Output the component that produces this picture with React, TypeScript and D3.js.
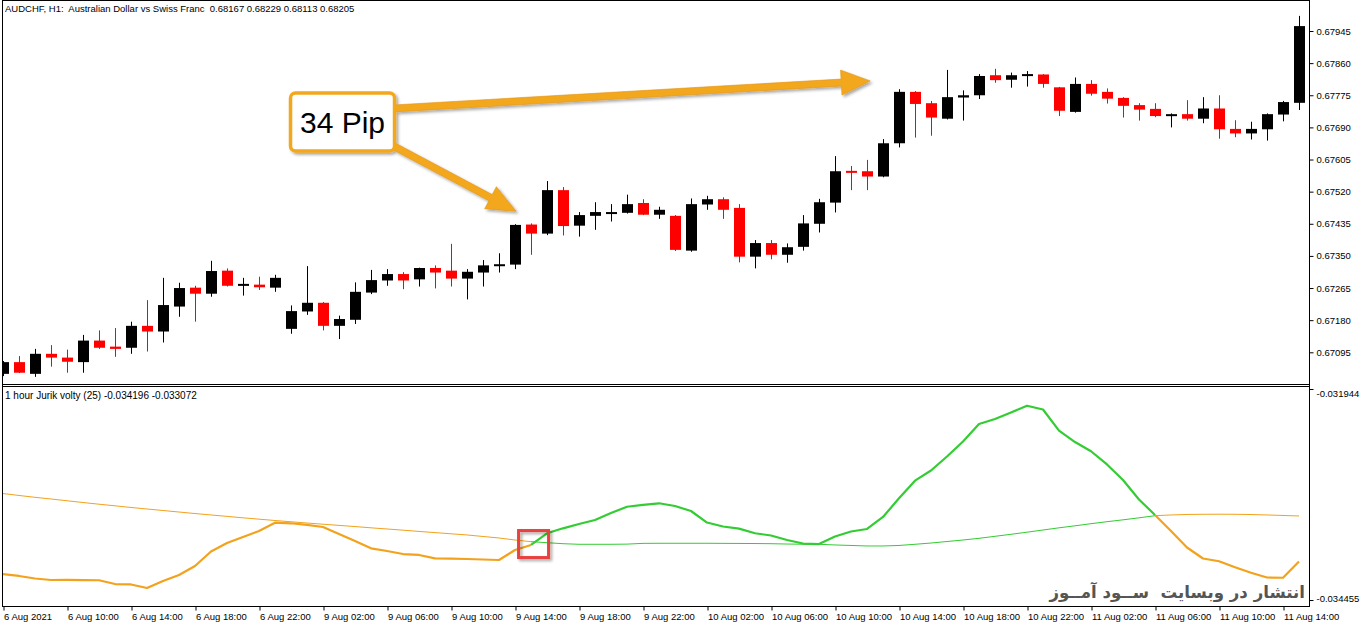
import { useEffect, useRef } from 'react';
import * as d3 from 'd3';

// AUDCHF H1 candles, 6 Aug 06:00 .. 11 Aug 15:00
const opens = [0.67038, 0.67069, 0.67038, 0.67091, 0.67081, 0.67069, 0.67126, 0.67110, 0.67107, 0.67165,
  0.67150, 0.67216, 0.67266, 0.67250, 0.67311, 0.67274, 0.67274, 0.67266, 0.67157, 0.67203,
  0.67226, 0.67165, 0.67181, 0.67253, 0.67285, 0.67302, 0.67288, 0.67318, 0.67311, 0.67290,
  0.67306, 0.67326, 0.67327, 0.67433, 0.67409, 0.67524, 0.67430, 0.67456, 0.67463, 0.67464,
  0.67490, 0.67459, 0.67456, 0.67364, 0.67486, 0.67500, 0.67477, 0.67348, 0.67384, 0.67353,
  0.67374, 0.67435, 0.67491, 0.67575, 0.67574, 0.67560, 0.67648, 0.67784, 0.67754, 0.67713,
  0.67769, 0.67775, 0.67828, 0.67816, 0.67828, 0.67830, 0.67796, 0.67731, 0.67805, 0.67784,
  0.67768, 0.67749, 0.67739, 0.67722, 0.67725, 0.67713, 0.67740, 0.67686, 0.67674, 0.67685,
  0.67724, 0.67755];
const highs = [0.67072, 0.67085, 0.67104, 0.67114, 0.67102, 0.67141, 0.67153, 0.67159, 0.67176, 0.67233,
  0.67292, 0.67279, 0.67271, 0.67337, 0.67317, 0.67292, 0.67295, 0.67300, 0.67219, 0.67323,
  0.67228, 0.67192, 0.67280, 0.67313, 0.67315, 0.67307, 0.67319, 0.67325, 0.67382, 0.67315,
  0.67339, 0.67357, 0.67434, 0.67436, 0.67548, 0.67532, 0.67466, 0.67492, 0.67487, 0.67512,
  0.67500, 0.67480, 0.67458, 0.67502, 0.67509, 0.67505, 0.67487, 0.67392, 0.67392, 0.67383,
  0.67458, 0.67501, 0.67614, 0.67588, 0.67604, 0.67659, 0.67791, 0.67786, 0.67760, 0.67842,
  0.67788, 0.67831, 0.67845, 0.67835, 0.67839, 0.67831, 0.67797, 0.67822, 0.67815, 0.67793,
  0.67770, 0.67754, 0.67754, 0.67727, 0.67762, 0.67770, 0.67775, 0.67709, 0.67705, 0.67727,
  0.67760, 0.67985];
const lows = [0.67032, 0.67040, 0.67030, 0.67057, 0.67041, 0.67041, 0.67104, 0.67083, 0.67091, 0.67097,
  0.67121, 0.67189, 0.67176, 0.67242, 0.67269, 0.67245, 0.67260, 0.67255, 0.67144, 0.67194,
  0.67153, 0.67130, 0.67170, 0.67249, 0.67271, 0.67262, 0.67269, 0.67264, 0.67269, 0.67235,
  0.67269, 0.67306, 0.67315, 0.67353, 0.67405, 0.67404, 0.67401, 0.67419, 0.67441, 0.67462,
  0.67458, 0.67448, 0.67363, 0.67361, 0.67472, 0.67448, 0.67333, 0.67317, 0.67341, 0.67332,
  0.67364, 0.67412, 0.67465, 0.67524, 0.67524, 0.67558, 0.67637, 0.67663, 0.67668, 0.67711,
  0.67708, 0.67765, 0.67808, 0.67795, 0.67798, 0.67795, 0.67720, 0.67729, 0.67774, 0.67753,
  0.67716, 0.67708, 0.67717, 0.67690, 0.67708, 0.67701, 0.67660, 0.67664, 0.67658, 0.67655,
  0.67706, 0.67736];
const closes = [0.67069, 0.67041, 0.67091, 0.67081, 0.67070, 0.67126, 0.67107, 0.67104, 0.67165, 0.67150,
  0.67220, 0.67265, 0.67250, 0.67310, 0.67271, 0.67276, 0.67267, 0.67292, 0.67204, 0.67226,
  0.67165, 0.67183, 0.67255, 0.67286, 0.67302, 0.67285, 0.67318, 0.67306, 0.67290, 0.67308,
  0.67325, 0.67328, 0.67432, 0.67409, 0.67524, 0.67429, 0.67458, 0.67466, 0.67466, 0.67487,
  0.67459, 0.67472, 0.67366, 0.67487, 0.67500, 0.67472, 0.67348, 0.67384, 0.67353, 0.67373,
  0.67436, 0.67492, 0.67574, 0.67573, 0.67560, 0.67648, 0.67784, 0.67752, 0.67716, 0.67770,
  0.67775, 0.67826, 0.67815, 0.67828, 0.67831, 0.67805, 0.67734, 0.67805, 0.67779, 0.67766,
  0.67747, 0.67737, 0.67720, 0.67725, 0.67713, 0.67740, 0.67685, 0.67674, 0.67686, 0.67725,
  0.67757, 0.67958];

// Jurik volty (25): fast (thick) and slow (thin) lines
const jurikFast = [-0.034146, -0.034169, -0.034199, -0.034217, -0.034215, -0.034218, -0.034220, -0.034265, -0.034270, -0.034312,
  -0.034229, -0.034157, -0.034050, -0.033878, -0.033777, -0.033705, -0.033634, -0.033535, -0.033542, -0.033562,
  -0.033586, -0.033670, -0.033753, -0.033840, -0.033872, -0.033908, -0.033919, -0.033959, -0.033962, -0.033967,
  -0.033973, -0.033979, -0.033860, -0.033800, -0.033661, -0.033602, -0.033551, -0.033503, -0.033420, -0.033345,
  -0.033324, -0.033304, -0.033336, -0.033396, -0.033533, -0.033580, -0.033606, -0.033661, -0.033687, -0.033741,
  -0.033783, -0.033789, -0.033699, -0.033640, -0.033610, -0.033467, -0.033245, -0.033035, -0.032914, -0.032747,
  -0.032569, -0.032361, -0.032301, -0.032224, -0.032143, -0.032188, -0.032440, -0.032575, -0.032685, -0.032842,
  -0.033027, -0.033259, -0.033443, -0.033634, -0.033830, -0.033961, -0.033994, -0.034066, -0.034130, -0.034187,
  -0.034190, -0.033997];
const jurikSlow = [-0.033188, -0.033211, -0.033233, -0.033253, -0.033274, -0.033295, -0.033315, -0.033334, -0.033354, -0.033372,
  -0.033390, -0.033408, -0.033426, -0.033443, -0.033460, -0.033477, -0.033493, -0.033509, -0.033524, -0.033539,
  -0.033553, -0.033567, -0.033581, -0.033596, -0.033610, -0.033624, -0.033639, -0.033653, -0.033667, -0.033681,
  -0.033699, -0.033717, -0.033741, -0.033761, -0.033773, -0.033785, -0.033792, -0.033792, -0.033792, -0.033790,
  -0.033781, -0.033780, -0.033780, -0.033780, -0.033780, -0.033781, -0.033782, -0.033783, -0.033785, -0.033789,
  -0.033791, -0.033792, -0.033800, -0.033806, -0.033812, -0.033812, -0.033806, -0.033792, -0.033777, -0.033759,
  -0.033741, -0.033721, -0.033697, -0.033673, -0.033648, -0.033622, -0.033596, -0.033572, -0.033547, -0.033523,
  -0.033501, -0.033477, -0.033452, -0.033443, -0.033437, -0.033435, -0.033434, -0.033435, -0.033438, -0.033443,
  -0.033449, -0.033455];

const priceTicks = [0.67095, 0.67180, 0.67265, 0.67350, 0.67435, 0.67520, 0.67605, 0.67690, 0.67775, 0.67860, 0.67945];
const voltyTicks = [-0.031944, -0.034455];
const labelBars = [0, 4, 8, 12, 16, 20, 24, 28, 32, 36, 40, 44, 48, 52, 56, 60, 64, 68, 72, 76, 80];
const timeLabels = ['6 Aug 2021', '6 Aug 10:00', '6 Aug 14:00', '6 Aug 18:00', '6 Aug 22:00',
  '9 Aug 02:00', '9 Aug 06:00', '9 Aug 10:00', '9 Aug 14:00', '9 Aug 18:00', '9 Aug 22:00',
  '10 Aug 02:00', '10 Aug 06:00', '10 Aug 10:00', '10 Aug 14:00', '10 Aug 18:00', '10 Aug 22:00',
  '11 Aug 02:00', '11 Aug 06:00', '11 Aug 10:00', '11 Aug 14:00'];

const W = 1362;
const H = 628;
const FONT = '"Liberation Sans", Arial, sans-serif';
const ORANGE = '#F2A21C';
const GREEN = '#33CC33';
const ANNOT = '#F3A71D';

type Pt = [number, number];
const arrowShape = (a: Pt, b: Pt, w: number, headL: number, headW: number): Pt[] => {
  const dx = b[0] - a[0], dy = b[1] - a[1];
  const len = Math.hypot(dx, dy);
  const ux = dx / len, uy = dy / len, px = -uy, py = ux;
  const bx = b[0] - ux * headL, by = b[1] - uy * headL;
  return [
    [a[0] + px * w / 2, a[1] + py * w / 2],
    [bx + px * w / 2, by + py * w / 2],
    [bx + px * headW, by + py * headW],
    b,
    [bx - px * headW, by - py * headW],
    [bx - px * w / 2, by - py * w / 2],
    [a[0] - px * w / 2, a[1] - py * w / 2],
  ];
};

export default function App() {
  const ref = useRef<SVGSVGElement>(null);

  useEffect(() => {
    if (!ref.current) return;
    const svg = d3.select(ref.current);
    svg.selectAll('*').remove();

    const n = opens.length;
    const x = d3.scaleLinear().domain([0, n - 1]).range([3, 3 + 16 * (n - 1)]);
    const yP = d3.scaleLinear().domain([0.67095, 0.67945]).range([352.3, 31]);
    const yI = d3.scaleLinear().domain([-0.034455, -0.031944]).range([600, 389]);

    const defs = svg.append('defs');
    defs.append('clipPath').attr('id', 'mainClip')
      .append('rect').attr('x', 3).attr('y', 1).attr('width', 1306).attr('height', 383);
    defs.append('clipPath').attr('id', 'indClip')
      .append('rect').attr('x', 3).attr('y', 387).attr('width', 1306).attr('height', 219);
    const filt = defs.append('filter').attr('id', 'shadow')
      .attr('x', '-20%').attr('y', '-30%').attr('width', '140%').attr('height', '170%');
    filt.append('feDropShadow').attr('dx', 2).attr('dy', 2).attr('stdDeviation', 1.6)
      .attr('flood-color', '#000').attr('flood-opacity', 0.35);

    svg.append('rect').attr('width', W).attr('height', H).attr('fill', '#fff');

    // Candles
    const bars = opens.map((o, i) => ({ i, o, h: highs[i], l: lows[i], c: closes[i] }));
    const col = (d: typeof bars[number]) => (d.c >= d.o ? '#000' : '#ff0000');
    const cg = svg.append('g').attr('clip-path', 'url(#mainClip)');
    const candle = cg.selectAll('g.candle').data(bars).enter().append('g').attr('class', 'candle');
    candle.append('line')
      .attr('x1', d => Math.round(x(d.i)) + 0.5)
      .attr('x2', d => Math.round(x(d.i)) + 0.5)
      .attr('y1', d => yP(d.h))
      .attr('y2', d => yP(d.l))
      .attr('stroke', col)
      .attr('stroke-width', 1);
    candle.append('rect')
      .attr('x', d => Math.round(x(d.i)) - 5)
      .attr('width', 11)
      .attr('y', d => yP(Math.max(d.o, d.c)))
      .attr('height', d => Math.max(2, yP(Math.min(d.o, d.c)) - yP(Math.max(d.o, d.c))))
      .attr('fill', col);

    // Indicator lines, coloured by fast vs slow
    const up = jurikFast.map((v, i) => v > jurikSlow[i]);
    const runs: { from: number; to: number; up: boolean }[] = [];
    let runStart = 0;
    let runUp = up[1];
    for (let i = 2; i < n; i++) {
      if (up[i] !== runUp) {
        runs.push({ from: runStart, to: i - 1, up: runUp });
        runStart = i - 1;
        runUp = up[i];
      }
    }
    runs.push({ from: runStart, to: n - 1, up: runUp });

    const ig = svg.append('g').attr('clip-path', 'url(#indClip)');
    const lineOf = (vals: number[]) => d3.line<number>()
      .x(i => x(i))
      .y(i => yI(vals[i]));
    runs.forEach(r => {
      const idx = d3.range(r.from, r.to + 1);
      ig.append('path').attr('d', lineOf(jurikSlow)(idx))
        .attr('fill', 'none').attr('stroke', r.up ? GREEN : ORANGE).attr('stroke-width', 1);
    });
    runs.forEach(r => {
      const idx = d3.range(r.from, r.to + 1);
      ig.append('path').attr('d', lineOf(jurikFast)(idx))
        .attr('fill', 'none').attr('stroke', r.up ? GREEN : ORANGE)
        .attr('stroke-width', 2.2).attr('stroke-linejoin', 'round');
    });

    // Frame
    const frame = svg.append('g').attr('stroke', '#000').attr('stroke-width', 1).attr('shape-rendering', 'crispEdges');
    frame.append('line').attr('x1', 2.5).attr('x2', 2.5).attr('y1', 0).attr('y2', 607);
    frame.append('line').attr('x1', 1309.5).attr('x2', 1309.5).attr('y1', 0).attr('y2', 607);
    frame.append('line').attr('x1', 2).attr('x2', 1310).attr('y1', 0.5).attr('y2', 0.5);
    frame.append('line').attr('x1', 2).attr('x2', 1310).attr('y1', 384.5).attr('y2', 384.5);
    frame.append('line').attr('x1', 2).attr('x2', 1310).attr('y1', 386.5).attr('y2', 386.5);
    frame.append('line').attr('x1', 2).attr('x2', 1310).attr('y1', 606.5).attr('y2', 606.5);

    // Price axis
    const pAxis = svg.append('g').attr('transform', 'translate(1309.5,0)')
      .call(d3.axisRight(yP).tickValues(priceTicks).tickSize(4).tickPadding(3).tickFormat(d => (+d).toFixed(5)));
    pAxis.select('.domain').remove();
    pAxis.selectAll('text').attr('font-family', FONT).attr('font-size', 9.5).attr('fill', '#000');
    pAxis.selectAll('line').attr('stroke', '#000');

    // Indicator axis (top and bottom values only)
    const iAxis = svg.append('g').attr('transform', 'translate(1309.5,0)')
      .call(d3.axisRight(yI).tickValues(voltyTicks).tickSize(4).tickPadding(3).tickFormat(d => (+d).toFixed(6)));
    iAxis.select('.domain').remove();
    iAxis.selectAll('text').attr('font-family', FONT).attr('font-size', 9.5).attr('fill', '#000')
      .attr('dy', (d: any) => (d === voltyTicks[0] ? '0.75em' : '0.2em'));
    iAxis.selectAll('line').attr('stroke', '#000');

    // Time axis
    const tAxis = svg.append('g').attr('transform', 'translate(0.5,606.5)')
      .call(d3.axisBottom(x).tickValues(labelBars).tickSize(4).tickPadding(2.5)
        .tickFormat((_, i) => timeLabels[i]));
    tAxis.select('.domain').remove();
    tAxis.selectAll('text').attr('font-family', FONT).attr('font-size', 9.5).attr('fill', '#000')
      .attr('text-anchor', 'start').attr('x', 0);
    tAxis.selectAll('line').attr('stroke', '#000');

    // Headers
    svg.append('text').attr('x', 5).attr('y', 11.5)
      .attr('font-family', FONT).attr('font-size', 9.5).attr('fill', '#000')
      .attr('xml:space', 'preserve')
      .text('AUDCHF, H1:  Australian Dollar vs Swiss Franc  0.68167 0.68229 0.68113 0.68205');
    svg.append('text').attr('x', 5).attr('y', 399)
      .attr('font-family', FONT).attr('font-size', 10).attr('fill', '#000')
      .text('1 hour Jurik volty (25) -0.034196 -0.033072');

    // Annotation: 34 Pip box with arrows
    const ann = svg.append('g').attr('filter', 'url(#shadow)');
    const boxC: Pt = [x(21.22), yP(0.67704)];
    const arrows: [Pt, Pt][] = [
      [[boxC[0] + 38, yP(0.67738)], [x(54.2), yP(0.67813)]],
      [[boxC[0] + 38, yP(0.67659)], [x(32.07), yP(0.67468)]],
    ];
    arrows.forEach(([a, b]) => {
      ann.append('polygon')
        .attr('points', arrowShape(a, b, 7, 29, 12.5).map(p => p.join(',')).join(' '))
        .attr('fill', ANNOT).attr('stroke', '#E3951A').attr('stroke-width', 0.6);
    });
    ann.append('rect')
      .attr('x', boxC[0] - 52).attr('y', boxC[1] - 29).attr('width', 104).attr('height', 58)
      .attr('rx', 5).attr('fill', '#fff').attr('stroke', ANNOT).attr('stroke-width', 3.5);
    svg.append('text').attr('x', boxC[0]).attr('y', boxC[1] + 11)
      .attr('text-anchor', 'middle').attr('font-family', FONT).attr('font-size', 30).attr('fill', '#000')
      .text('34 Pip');

    // Red box around the crossover
    const rc: Pt = [x(33.16), yI(-0.033789)];
    svg.append('rect').attr('filter', 'url(#shadow)')
      .attr('x', rc[0] - 15).attr('y', rc[1] - 13.5).attr('width', 30).attr('height', 27)
      .attr('fill', 'none').attr('stroke', '#E8423F').attr('stroke-width', 3);

    // Watermark
    svg.append('text').attr('x', 1305).attr('y', 598)
      .attr('text-anchor', 'end')
      .attr('font-family', '"DejaVu Sans", sans-serif').attr('font-weight', 'bold')
      .attr('font-size', 16.6).attr('fill', '#555')
      .attr('xml:space', 'preserve')
      .text('انتشار در وبسایت  ســود آمــوز');
  }, []);

  return (
    <svg ref={ref} width={W} height={H}
      style={{ position: 'absolute', left: 0, top: 0, display: 'block', background: '#fff' }} />
  );
}
